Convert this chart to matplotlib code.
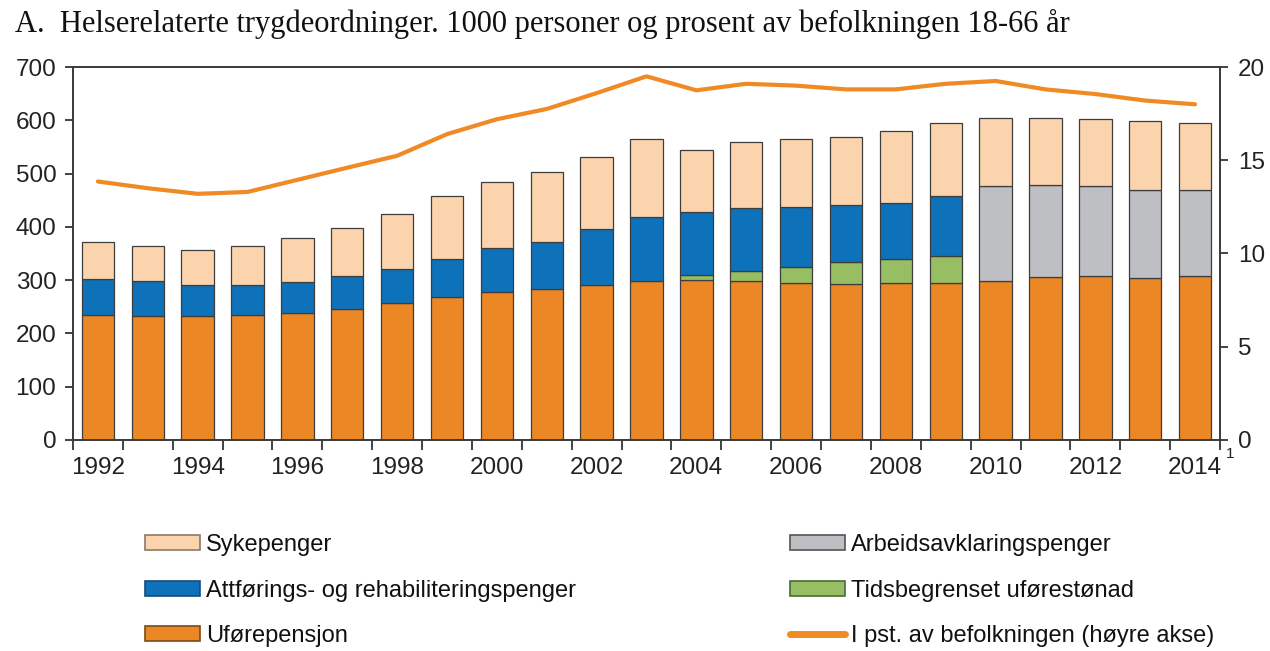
import matplotlib
matplotlib.use("Agg")
import matplotlib.pyplot as plt
from matplotlib.patches import Patch
from matplotlib.lines import Line2D
import numpy as np

years = list(range(1992, 2015))
ufore = [235, 232, 233, 235, 238, 245, 258, 269, 277, 283, 291, 299, 301, 299, 295, 293, 295, 295, 299, 306, 308, 304, 307]
tidsb = [0, 0, 0, 0, 0, 0, 0, 0, 0, 0, 0, 0, 8, 19, 30, 41, 45, 50, 0, 0, 0, 0, 0]
attf = [67, 66, 58, 56, 58, 62, 63, 71, 84, 89, 105, 120, 118, 117, 113, 107, 104, 113, 0, 0, 0, 0, 0]
arbeid = [0, 0, 0, 0, 0, 0, 0, 0, 0, 0, 0, 0, 0, 0, 0, 0, 0, 0, 177, 173, 168, 166, 163]
syke = [69, 66, 66, 73, 83, 91, 104, 118, 123, 131, 136, 145, 118, 125, 127, 127, 136, 137, 129, 125, 126, 128, 124]
pct = [13.86, 13.5, 13.2, 13.3, 13.95, 14.6, 15.24, 16.4, 17.2, 17.75, 18.6, 19.5, 18.75, 19.1, 19.0, 18.8, 18.8, 19.1, 19.25, 18.8, 18.55, 18.2, 18.0]

labels = {
    "syke": "Sykepenger",
    "attf": "Attførings- og rehabiliteringspenger",
    "ufore": "Uførepensjon",
    "arbeid": "Arbeidsavklaringspenger",
    "tidsb": "Tidsbegrenset uførestønad",
    "pct": "I pst. av befolkningen (høyre akse)",
}
title = "A.  Helserelaterte trygdeordninger. 1000 personer og prosent av befolkningen 18-66 år"

c_ufore = "#EC8725"
c_tidsb = "#97BE62"
c_attf = "#0E72BA"
c_arbeid = "#BEBFC3"
c_syke = "#FBD4AE"
c_line = "#F08A24"
edge = "#3d3d3d"

plt.rcParams["font.family"] = ["Liberation Sans", "DejaVu Sans"]

fig = plt.figure(figsize=(12.7, 6.51), dpi=100)
ax = fig.add_axes([73 / 1270, 1 - 440 / 651, (1220 - 73) / 1270, (440 - 67) / 651])

x = np.arange(len(years))
w = 0.65
bottom = np.zeros(len(years))
for vals, col in [(ufore, c_ufore), (tidsb, c_tidsb), (attf, c_attf), (arbeid, c_arbeid), (syke, c_syke)]:
    v = np.array(vals, dtype=float)
    mask = v > 0
    ax.bar(x[mask], v[mask], w, bottom=bottom[mask], color=col, edgecolor=edge, linewidth=0.9, zorder=2)
    bottom += v

ax.set_xlim(-0.5, len(years) - 0.5)
ax.set_ylim(0, 700)
ax.set_yticks(range(0, 701, 100))
ax.tick_params(axis="y", direction="out", length=6, width=1.2, labelsize=17.5, pad=6, colors="#222222")

ax.set_xticks(np.arange(-0.5, len(years), 1.0))
ax.set_xticklabels([])
ax.tick_params(axis="x", which="major", direction="out", length=7, width=1.2, colors="#222222")
ax.set_xticks(x, minor=True)
ax.set_xticklabels([str(y) if y % 2 == 0 else "" for y in years], minor=True)
ax.tick_params(axis="x", which="minor", length=0, labelsize=17.5, pad=12, colors="#222222")

for s in ax.spines.values():
    s.set_color("#3a3a3a")
    s.set_linewidth(1.2)

ax2 = ax.twinx()
ax2.plot(x, pct, color=c_line, linewidth=3, zorder=3, solid_capstyle="round")
ax2.set_ylim(0, 20)
ax2.set_yticks(range(0, 21, 5))
ax2.tick_params(axis="y", direction="out", length=6, width=1.2, labelsize=17.5, pad=7, colors="#222222")
for s in ax2.spines.values():
    s.set_color("#3a3a3a")
    s.set_linewidth(1.2)

fig.text(1226 / 1270, 1 - 454 / 651, "1", fontsize=11, color="#222222", ha="left", va="center")

fig.text(15 / 1270, 1 - 24 / 651, title, fontsize=22, family=["Liberation Serif", "DejaVu Serif"],
         ha="left", va="center", color="#111111")

h_syke = Patch(facecolor=c_syke, edgecolor="#8a7a6a", linewidth=1.2)
h_attf = Patch(facecolor=c_attf, edgecolor="#1a4a7a", linewidth=1.2)
h_ufore = Patch(facecolor=c_ufore, edgecolor="#7a4a1a", linewidth=1.2)
h_arbeid = Patch(facecolor=c_arbeid, edgecolor="#555555", linewidth=1.2)
h_tidsb = Patch(facecolor=c_tidsb, edgecolor="#4a6a3a", linewidth=1.2)
h_pct = Line2D([0], [0], color=c_line, linewidth=5, solid_capstyle="round")

common = dict(frameon=False, fontsize=17, handlelength=2.33, handleheight=0.6,
              handletextpad=0.25, labelspacing=1.0, borderpad=0, borderaxespad=0, loc="upper left")
leg1 = fig.legend([h_syke, h_attf, h_ufore], [labels["syke"], labels["attf"], labels["ufore"]],
                  bbox_to_anchor=(145 / 1270, 1 - 534 / 651), **common)
leg2 = fig.legend([h_arbeid, h_tidsb, h_pct], [labels["arbeid"], labels["tidsb"], labels["pct"]],
                  bbox_to_anchor=(790 / 1270, 1 - 534 / 651), **common)
for leg in (leg1, leg2):
    for t in leg.get_texts():
        t.set_color("#111111")

fig.savefig("out.png", dpi=100)
